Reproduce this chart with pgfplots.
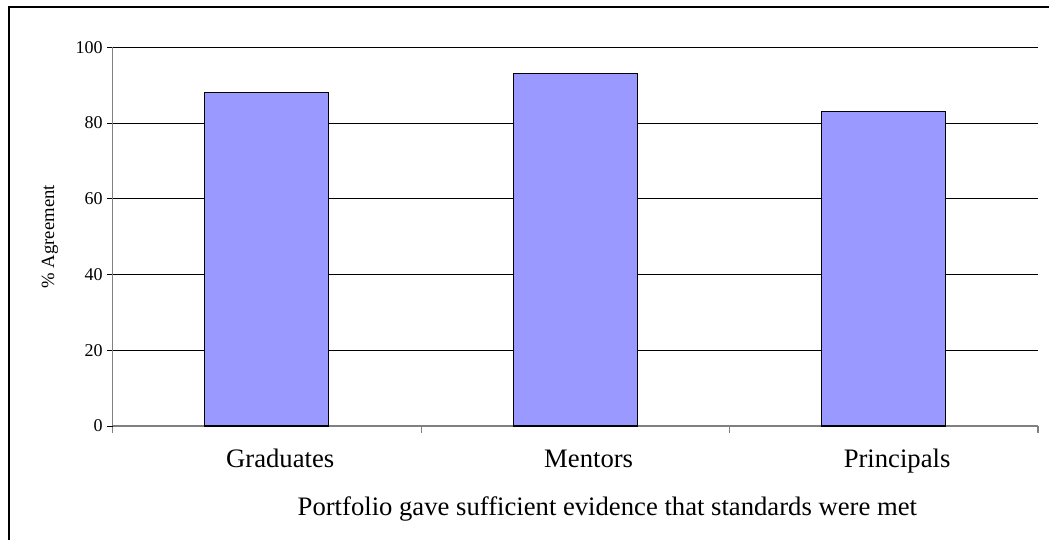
\documentclass[border=0pt]{standalone}
\usepackage{pgfplots}
\pgfplotsset{compat=1.18}
\usepackage{fontspec}
\setmainfont{Liberation Serif}
\definecolor{barfill}{HTML}{9999FF}
\definecolor{axgray}{HTML}{808080}
\begin{document}
\begin{tikzpicture}
\path[use as bounding box] (0,0) rectangle (786.75pt,404.25pt);
\draw[line width=2pt] (6.75pt,-2pt) -- (6.75pt,399pt) -- (790pt,399pt);
\begin{axis}[
  at={(84.5pt,84.75pt)}, anchor=south west,
  scale only axis, width=694pt, height=284pt,
  xmin=-0.5, xmax=2.5, ymin=0, ymax=100,
  axis x line=bottom, axis y line=left,
  axis line style={axgray, line width=0.9pt, -},
  ytick={0,20,40,60,80,100},
  xtick={0,1,2},
  xticklabels={Graduates,Mentors,Principals},
  major x tick style={draw=none},
  minor xtick={-0.5,0.5,1.5,2.5},
  minor x tick style={axgray, line width=0.9pt},
  minor tick length=5pt,
  major tick length=4pt,
  tick align=outside,
  y tick style={black, line width=0.6pt},
  ymajorgrids, grid style={black, line width=0.7pt},
  yticklabel style={font=\fontsize{13.5}{16}\selectfont},
  /pgf/number format/assume math mode=true,
  xticklabel style={font=\fontsize{20}{24}\selectfont, anchor=base, yshift=-27pt, xshift=10pt},
  ylabel={\% Agreement},
  ylabel style={font=\fontsize{14}{17}\selectfont, at={(axis description cs:-0.0677,0.5)}, anchor=center, rotate=0},
  xlabel={Portfolio gave sufficient evidence that standards were met},
  xlabel style={font=\fontsize{20}{24}\selectfont, at={(axis description cs:0.5,0)}, anchor=base, yshift=-66.75pt, xshift=24pt},
  clip=false,
]
\addplot[ybar, bar width=93pt, fill=barfill, draw=black, line width=0.8pt, bar shift=0pt]
  coordinates {(0,88) (1,93) (2,83)};
\end{axis}
\end{tikzpicture}
\end{document}
